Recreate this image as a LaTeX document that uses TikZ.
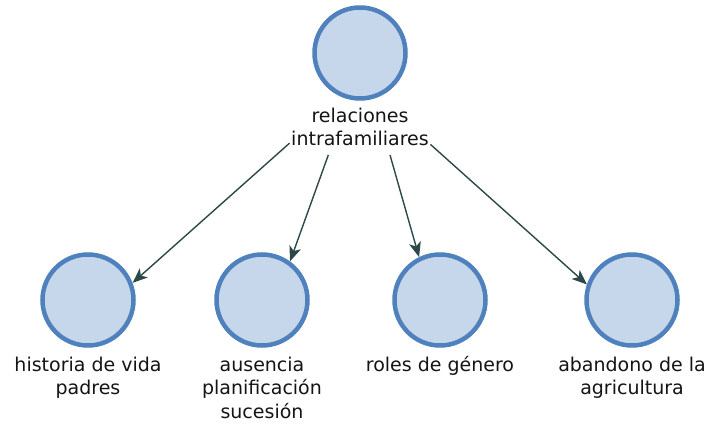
\documentclass[tikz,border=0pt]{standalone}
\usepackage{fontspec}
\setmainfont{DejaVu Sans}
\usetikzlibrary{arrows.meta}
\definecolor{fillblue}{RGB}{198,215,235}
\definecolor{edgeblue}{RGB}{79,129,189}
\definecolor{arrowgray}{RGB}{45,72,72}
\tikzstyle{circ}=[draw=edgeblue,fill=fillblue,circle,line width=4.5pt,minimum size=91pt,inner sep=0]
\tikzstyle{lbl}=[align=center,inner sep=0,anchor=base,font=\fontsize{19}{23.5}\selectfont,text=black!92]
\tikzstyle{arr}=[draw=arrowgray,line width=1.4pt,shorten <=2pt,-{Stealth[length=15pt,width=12pt,inset=4pt]}]

\begin{document}
\begin{tikzpicture}[x=1pt,y=-1pt]
	 \useasboundingbox (0,0) rectangle (709,425);

                        \node[circ] (top) at (360, 53) {};
                        \node[circ] (c1) at (88, 300) {};
                        \node[circ] (c2) at (262, 300) {};
                        \node[circ] (c3) at (440, 300) {};
                        \node[circ] (c4) at (632, 300) {};

                        % base = last line
                        \node[lbl] (rel) at (360, 146) {relaciones\\intrafamiliares};
                        \node[lbl] (t1) at (88, 394.5) {historia de vida\\padres};
                        \node[lbl] (t2) at (262, 418) {ausencia\\planificación\\sucesión};
                        \node[lbl] (t3) at (440, 371) {roles de género};
                        \node[lbl] (t4) at (632, 394.5) {abandono de la\\agricultura};

                        \draw[arr] (rel.192) -- (c1.21);
                        \draw[arr,shorten <=9pt] (rel.214) -- (c2.54);
                        \draw[arr,shorten <=9pt] (rel.325) -- (c3.116);
                        \draw[arr] (rel.347) -- (c4.161);

    \end{tikzpicture}
\end{document}
